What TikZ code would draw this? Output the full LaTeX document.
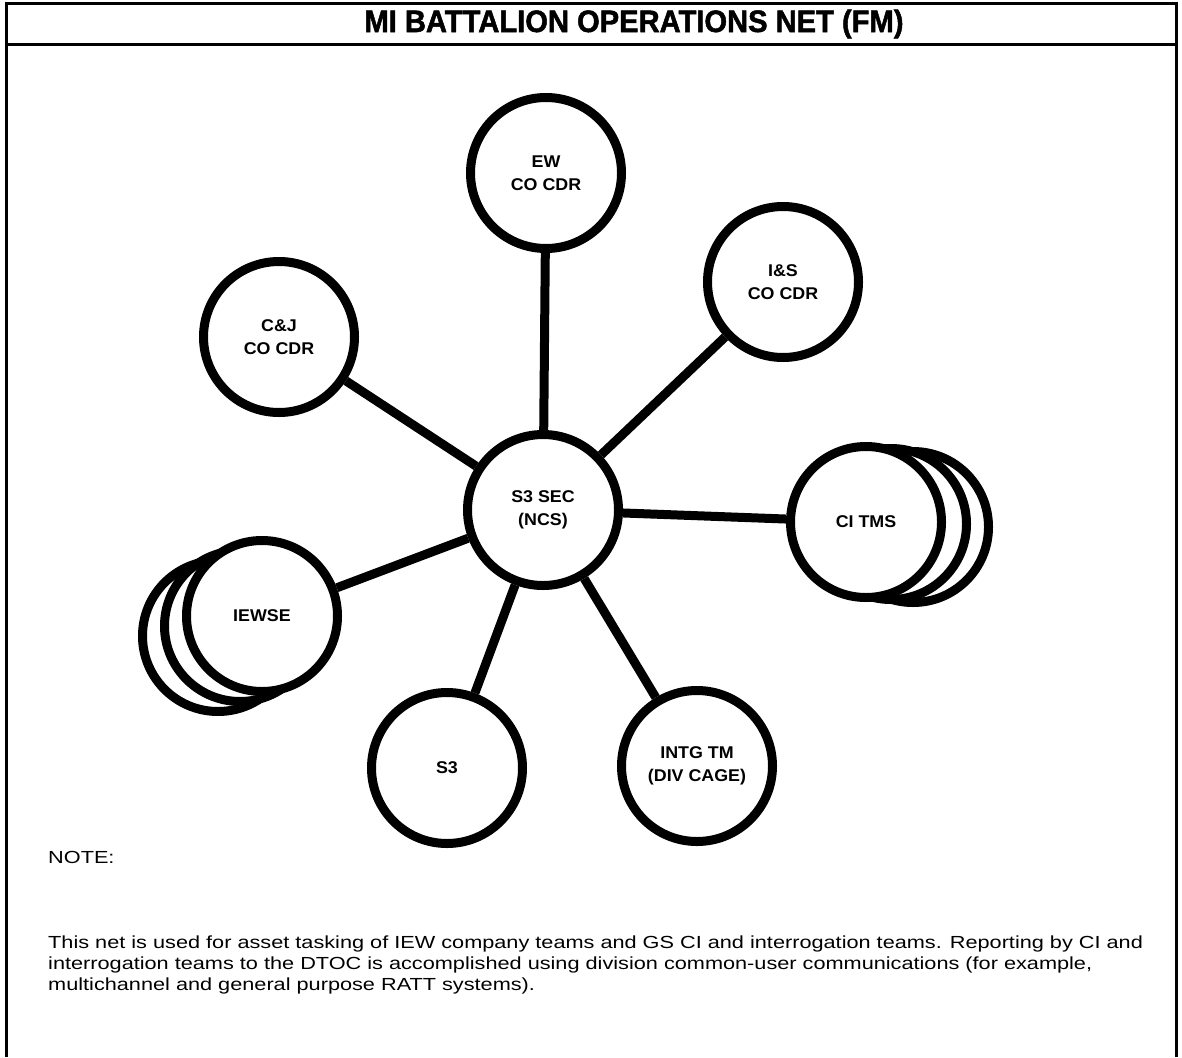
\documentclass[tikz,border=0pt]{standalone}
\usepackage{fontspec}
\setmainfont{Liberation Sans}
\newfontfamily\bodyfont[FakeStretch=1.24]{Liberation Sans}
\newfontfamily\titlefont[BoldFeatures={FakeBold=1.6}, FakeStretch=0.94]{Liberation Sans}
\newfontfamily\labelfont[FakeStretch=1.05]{Liberation Sans}
\begin{document}
\begin{tikzpicture}[x=1pt,y=-1pt,
  station/.style={circle, draw=black, line width=9pt, fill=white, minimum size=151pt, inner sep=0pt,
    font=\labelfont\fontsize{17}{23}\selectfont\bfseries, align=center},
  link/.style={line width=9pt},
  frameline/.style={line width=3pt},
  body/.style={font=\bodyfont\fontsize{17.5}{20.6}\selectfont, anchor=west, align=left, inner sep=0pt}]
\useasboundingbox (0,0) rectangle (1182,1057);
% frame
\draw[frameline] (6,1057) -- (6,4) -- (1176,4) -- (1176,1057);
\draw[frameline] (6,45) -- (1176,45);
\node[font=\titlefont\fontsize{31}{34}\selectfont\bfseries] (title) at (634,24) {MI BATTALION OPERATIONS NET (FM)};
% stacked back circles
\node[station] (ci3) at (913,527) {};
\node[station] (ci2) at (891,524) {};
\node[station] (iew3) at (218,636) {};
\node[station] (iew2) at (240,626) {};
% stations
\node[station] (hub) at (543,510) {S3 SEC\\(NCS)};
\node[station] (ew) at (546,173) {EW\\CO CDR};
\node[station] (is) at (783,282) {I\&S\\CO CDR};
\node[station] (cj) at (279,337) {C\&J\\CO CDR};
\node[station] (ci) at (866,522) {CI TMS};
\node[station] (iew) at (262,616) {IEWSE};
\node[station] (s3) at (447,768) {S3};
\node[station] (intg) at (697,766) {INTG TM\\(DIV CAGE)};
% links
\draw[link] (hub) -- (ew);
\draw[link] (hub) -- (is);
\draw[link] (hub) -- (cj);
\draw[link] (hub) -- (ci);
\draw[link] (hub) -- (iew);
\draw[link] (hub) -- (s3);
\draw[link] (hub) -- (intg);
% note
\node[body] (note) at (48,857) {NOTE:};
\node[body, anchor=north west] (text) at (48,936) {This net is used for asset tasking of IEW company teams and GS CI and interrogation teams. Reporting by CI and\\
interrogation teams to the DTOC is accomplished using division common-user communications (for example,\\
multichannel and general purpose RATT systems).};
\end{tikzpicture}
\end{document}
